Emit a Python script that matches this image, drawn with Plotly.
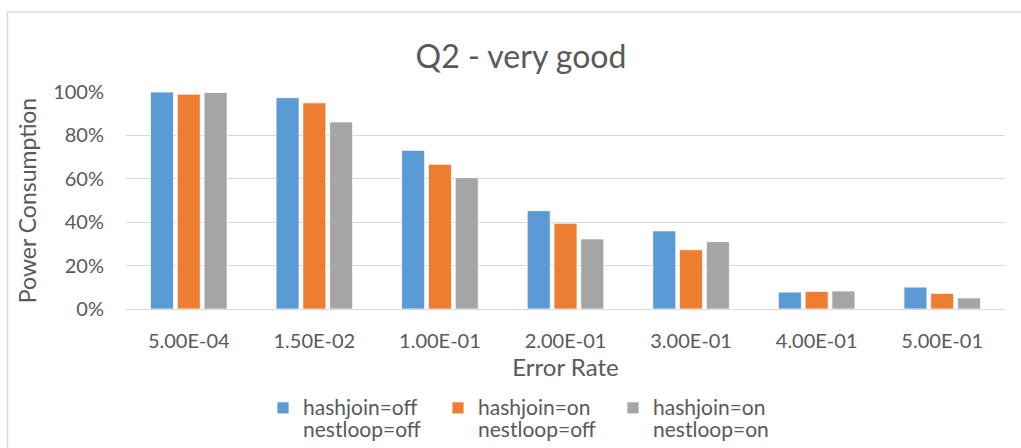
import plotly.graph_objects as go

categories = ["5.00E-04", "1.50E-02", "1.00E-01", "2.00E-01", "3.00E-01", "4.00E-01", "5.00E-01"]
series_names = ["hashjoin=off<br>nestloop=off", "hashjoin=on<br>nestloop=off", "hashjoin=on<br>nestloop=on"]
hj_off_nl_off = [1.000, 0.974, 0.731, 0.453, 0.360, 0.078, 0.101]
hj_on_nl_off = [0.990, 0.950, 0.667, 0.395, 0.273, 0.081, 0.072]
hj_on_nl_on = [0.998, 0.862, 0.605, 0.323, 0.310, 0.083, 0.051]
colors = ["#5B9BD5", "#ED7D31", "#A5A5A5"]
y_ticks = [0, 0.2, 0.4, 0.6, 0.8, 1.0]
y_tick_labels = ["0%", "20%", "40%", "60%", "80%", "100%"]

FONT = "Lato, Carlito, Calibri, sans-serif"
TXT = "#595959"

fig = go.Figure()
for name, vals, col in zip(series_names, [hj_off_nl_off, hj_on_nl_off, hj_on_nl_on], colors):
    fig.add_trace(go.Bar(x=categories, y=vals,
                         name='<span style="font-size:21px">' + name.replace("<br>", '</span><br><span style="font-size:21px">') + "</span>",
                         marker=dict(color=col, line=dict(color="white", width=0.8))))

W, H = 1021, 448
L, R, T, B = 126, 16, 92, 139
pw, ph = W - L - R, H - T - B


def px_x(p):
    return (p - L) / pw


def px_y(p):
    return (H - B - p) / ph


fig.update_layout(
    width=W, height=H,
    margin=dict(l=L, r=R, t=T, b=B, autoexpand=False),
    paper_bgcolor="white", plot_bgcolor="white",
    font=dict(family=FONT, color=TXT, size=20),
    title=dict(text="Q2 - very good", x=521 / W, xanchor="center", y=1 - 57 / H, yanchor="middle",
               font=dict(size=32, color=TXT, family=FONT)),
    barmode="group", bargap=0.36, bargroupgap=0.14,
    showlegend=True,
    legend=dict(orientation="h", x=px_x(263), xanchor="left", y=px_y(390), yanchor="top",
                font=dict(size=17.5, color=TXT, family=FONT), valign="top",
                itemwidth=30, traceorder="normal", entrywidth=130, entrywidthmode="pixels",
                bgcolor="rgba(0,0,0,0)"),
    xaxis=dict(title=dict(text="Error Rate", font=dict(size=24, color=TXT), standoff=0),
               tickfont=dict(size=20, color=TXT), showline=True, linecolor="#D9D9D9", linewidth=1,
               ticks="", ticklabelstandoff=14, fixedrange=True, automargin=False),
    yaxis=dict(title=dict(text="Power Consumption", font=dict(size=23, color=TXT), standoff=10),
               range=[0, 1.0], tickvals=y_ticks, ticktext=y_tick_labels,
               tickfont=dict(size=20, color=TXT), gridcolor="#D9D9D9", gridwidth=1,
               zeroline=False, showline=False, ticks="", ticklabelstandoff=21,
               fixedrange=True, automargin=False),
    shapes=[dict(type="rect", xref="paper", yref="paper",
                 x0=px_x(7.5), x1=px_x(W + 20), y0=px_y(12), y1=px_y(H + 20),
                 line=dict(color="#D9D9D9", width=1.5), fillcolor="rgba(0,0,0,0)", layer="below")],
)

fig.write_html("out.html", config={"displayModeBar": False},
               post_script="document.body.style.margin='0';")
